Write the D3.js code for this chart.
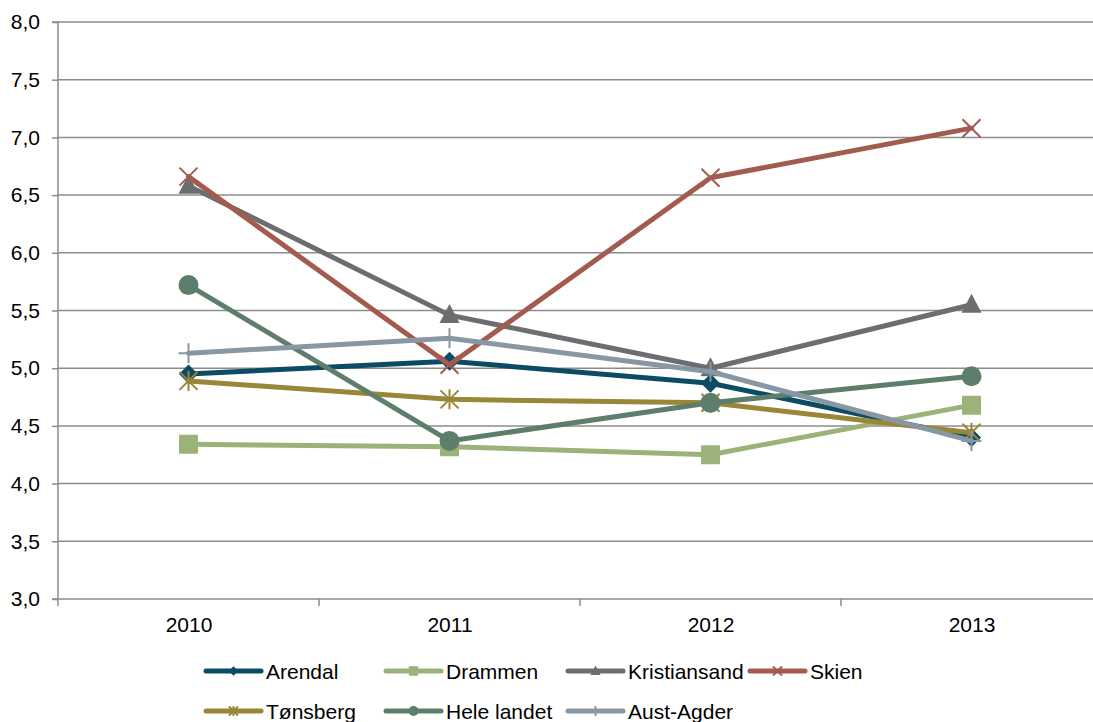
<!DOCTYPE html>
<html><head><meta charset="utf-8">
<script src="https://cdn.jsdelivr.net/npm/d3@7"></script>
<style>body{margin:0;background:#fff}svg{display:block}text{font-family:"Liberation Sans",Arial,sans-serif;fill:#000}</style>
</head><body><svg id="c" width="1093" height="722"></svg>
<script>
const years = ["2010","2011","2012","2013"];
const yTicks = [3.0,3.5,4.0,4.5,5.0,5.5,6.0,6.5,7.0,7.5,8.0];
const seriesNames = ["Arendal","Drammen","Kristiansand","Skien","Tønsberg","Hele landet","Aust-Agder"];
const arendal      = [4.95, 5.06, 4.87, 4.40];
const drammen      = [4.34, 4.32, 4.25, 4.68];
const kristiansand = [6.58, 5.46, 5.00, 5.55];
const skien        = [6.66, 5.03, 6.65, 7.08];
const tonsberg     = [4.89, 4.73, 4.70, 4.44];
const heleLandet   = [5.72, 4.37, 4.70, 4.93];
const austAgder    = [5.13, 5.26, 4.97, 4.37];
const seriesValues = [arendal, drammen, kristiansand, skien, tonsberg, heleLandet, austAgder];
const colors  = ["#0B4B63","#9BB37A","#6C6D70","#A35B50","#998637","#5E7E6C","#8797A3"];
const markers = ["diamond","square","triangle","x","star","circle","plus"];

const FS = 21;
const svg = d3.select("#c");
const L = 58, R = 1102, T = 22, B = 599;
const x = d3.scalePoint().domain(years).range([L, R]).padding(0.5);
const y = d3.scaleLinear().domain([3, 8]).range([B, T]);
const bw = x.step();

// gridlines
svg.append("g").selectAll("line").data(yTicks.filter(d => d > 3)).join("line")
  .attr("x1", L).attr("x2", 1093).attr("y1", d => y(d)).attr("y2", d => y(d))
  .attr("stroke", "#8c8c8c").attr("stroke-width", 1.5);

// y axis
const yAxis = d3.axisLeft(y).tickValues(yTicks).tickSize(6).tickPadding(12)
  .tickFormat(d => d3.format(".1f")(d).replace(".", ","));
const gy = svg.append("g").attr("transform", `translate(${L},0)`).call(yAxis);
gy.select(".domain").attr("stroke", "#8c8c8c").attr("stroke-width", 1.5).attr("d", `M-6,${T}H0V${B}H-6`);
gy.selectAll(".tick line").attr("stroke", "#8c8c8c").attr("stroke-width", 1.5);
gy.selectAll(".tick text").attr("font-size", FS).attr("fill", "#000").style("font-family", "Liberation Sans, Arial, sans-serif");

// x axis
const xAxis = d3.axisBottom(x).tickSize(0).tickPadding(18);
const gx = svg.append("g").attr("transform", `translate(0,${B})`).call(xAxis);
gx.select(".domain").attr("stroke", "#8c8c8c").attr("stroke-width", 1.5).attr("d", `M${L},0H1093`);
gx.selectAll(".tick text").attr("font-size", FS).attr("fill", "#000").style("font-family", "Liberation Sans, Arial, sans-serif");
const boundaries = d3.range(years.length + 1).map(i => L + i * bw);
gx.append("g").selectAll("line").data(boundaries).join("line")
  .attr("x1", d => d).attr("x2", d => d).attr("y1", 0).attr("y2", 7)
  .attr("stroke", "#8c8c8c").attr("stroke-width", 1.5);

function drawMarker(g, type, color, s) {
  switch (type) {
    case "diamond":
      g.append("path").attr("d", `M0,${-9.5*s}L${9.5*s},0L0,${9.5*s}L${-9.5*s},0Z`).attr("fill", color); break;
    case "square":
      g.append("rect").attr("x", -9.5*s).attr("y", -9.5*s).attr("width", 19*s).attr("height", 19*s).attr("rx", 1).attr("fill", color); break;
    case "triangle":
      g.append("path").attr("d", `M0,${-11*s}L${10*s},${8*s}L${-10*s},${8*s}Z`).attr("fill", color); break;
    case "circle":
      g.append("circle").attr("r", 10*s).attr("fill", color); break;
    case "x":
      g.append("path").attr("d", `M${-9*s},${-9*s}L${9*s},${9*s}M${9*s},${-9*s}L${-9*s},${9*s}`).attr("stroke", color).attr("stroke-width", 2).attr("fill", "none"); break;
    case "star":
      g.append("path").attr("d", `M${-9*s},${-9*s}L${9*s},${9*s}M${9*s},${-9*s}L${-9*s},${9*s}M0,${-10*s}L0,${10*s}`).attr("stroke", color).attr("stroke-width", 2).attr("fill", "none"); break;
    case "plus":
      g.append("path").attr("d", `M${-10*s},0L${10*s},0M0,${-10*s}L0,${10*s}`).attr("stroke", color).attr("stroke-width", 2).attr("fill", "none"); break;
  }
}

const line = d3.line().x((d, i) => x(years[i])).y(d => y(d));
seriesNames.forEach((name, k) => {
  const g = svg.append("g");
  g.append("path").datum(seriesValues[k]).attr("d", line)
    .attr("fill", "none").attr("stroke", colors[k]).attr("stroke-width", 5)
    .attr("stroke-linejoin", "round").attr("stroke-linecap", "round");
  seriesValues[k].forEach((v, i) => {
    const m = g.append("g").attr("transform", `translate(${x(years[i])},${y(v)})`);
    drawMarker(m, markers[k], colors[k], 1);
  });
});

// legend
const legX = [206, 386, 568, 750];
const legY = [671, 711];
seriesNames.forEach((name, k) => {
  const row = k < 4 ? 0 : 1, col = k < 4 ? k : k - 4;
  const g = svg.append("g").attr("transform", `translate(${legX[col]},${legY[row]})`);
  g.append("line").attr("x1", 0).attr("x2", 55).attr("stroke", colors[k]).attr("stroke-width", 5).attr("stroke-linecap", "round");
  const m = g.append("g").attr("transform", "translate(27.5,0)");
  drawMarker(m, markers[k], colors[k], 0.5);
  g.append("text").attr("x", 60).attr("y", 0).attr("dy", "0.36em").attr("font-size", FS).text(name);
});
</script></body></html>
